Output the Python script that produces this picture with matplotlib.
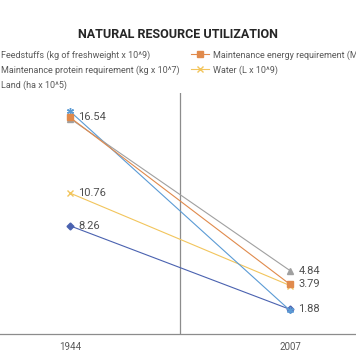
import matplotlib.pyplot as plt

plt.rcParams['font.family'] = ['Roboto', 'DejaVu Sans']

years = ['1944', '2007']
feedstuffs = [8.26, 1.88]
energy = [16.54, 3.79]
protein = [16.45, 4.84]
water = [10.76, 3.70]
land = [17.0, 1.80]

# which points carry a value label: (series, index)
labelled = [(energy, 0), (water, 0), (feedstuffs, 0), (protein, 1), (energy, 1), (feedstuffs, 1)]

fig = plt.figure(figsize=(3.56, 3.64), dpi=100)
ax = fig.add_axes([0, 30/364, 1, 241/364])

x = [0, 1]
series = [
    ('Feedstuffs (kg of freshweight x 10^9)', feedstuffs, '#4a62b0', 'D', 3.5, 3),
    ('Maintenance energy requirement (MJ x 10^9)', energy, '#e08a4c', 's', 4, 5),
    ('Maintenance protein requirement (kg x 10^7)', protein, '#a0a0a0', '^', 4, 4),
    ('Water (L x 10^9)', water, '#f2c55c', 'x', 4, 3),
    ('Land (ha x 10^5)', land, '#5b9bd5', (6, 2, 0), 5, 3),
]
handles = {}
for name, vals, c, m, ms, z in series:
    h, = ax.plot(x, vals, color=c, lw=0.8, marker=m, ms=ms, mec=c, mfc=c, zorder=z, label=name)
    handles[name] = h

for vals, i in labelled:
    ax.annotate(f'{vals[i]:.2f}', (x[i], vals[i]), xytext=(6, 0), textcoords='offset points',
                va='center', ha='left', fontsize=8, color='#505050')

ax.set_xlim(-70/220, 286/220)
ax.set_ylim(0, 18.4)
ax.axvline(0.5, color='#8c8c8c', lw=0.9)
for s in ['top', 'right', 'left']:
    ax.spines[s].set_visible(False)
ax.spines['bottom'].set_color('#8c8c8c')
ax.spines['bottom'].set_linewidth(0.9)
ax.set_yticks([])
ax.set_xticks(x)
ax.set_xticklabels(years, fontsize=7, color='#595959')
ax.tick_params(axis='x', length=0, pad=6)

order = ['Feedstuffs (kg of freshweight x 10^9)', 'Maintenance protein requirement (kg x 10^7)',
         'Land (ha x 10^5)', 'Maintenance energy requirement (MJ x 10^9)', 'Water (L x 10^9)']
fig.legend([handles[n] for n in order], order, ncol=2, loc='upper left',
           bbox_to_anchor=(-21/356, 1 - 50/364), frameon=False, fontsize=6.5,
           labelcolor='#595959', handlelength=2.0, handletextpad=0.4,
           columnspacing=1.3, labelspacing=0.6, borderpad=0, borderaxespad=0)

fig.text(0.5, 1 - 34/364, 'NATURAL RESOURCE UTILIZATION', ha='center', va='center',
         fontsize=9, fontweight='bold', color='#262626')

fig.savefig('out.png', dpi=100)
